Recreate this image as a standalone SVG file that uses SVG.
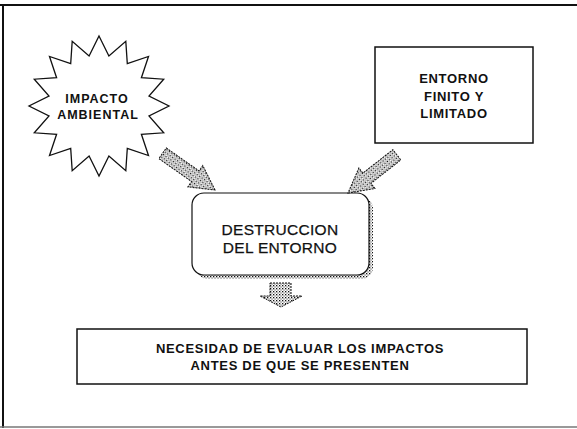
<svg xmlns="http://www.w3.org/2000/svg" width="577" height="429" viewBox="0 0 577 429">
  <defs>
    <pattern id="dots" width="3" height="3" patternUnits="userSpaceOnUse">
      <rect width="3" height="3" fill="#ffffff"/>
      <rect x="0" y="0" width="1.3" height="1.3" fill="#111"/>
      <rect x="1.5" y="1.5" width="1.1" height="1.1" fill="#444"/>
    </pattern>
  </defs>
  <style>
    .frame { stroke: #111; fill: none; }
    .box { fill: #ffffff; stroke: #111; stroke-width: 1.5; }
    .star { fill: #ffffff; stroke: #111; stroke-width: 1.3; stroke-linejoin: miter; }
    .arrow { fill: url(#dots); stroke: #111; stroke-width: 1; stroke-dasharray: 2 1; stroke-linejoin: miter; }
    .shadow { fill: url(#dots); stroke: none; }
    .lbl { font-family: "Liberation Sans", Arial, sans-serif; font-weight: bold; fill: #111; text-anchor: middle; }
    .s13 { font-size: 13px; letter-spacing: 0.7px; }
    .s12 { font-size: 12.5px; letter-spacing: 1px; }
    .big { font-size: 15.5px; font-weight: normal; letter-spacing: 0.3px; stroke: #111; stroke-width: 0.25px; }
  </style>
  <rect width="577" height="429" fill="#ffffff"/>

  <g id="frame">
    <line class="frame" x1="0" y1="5" x2="577" y2="5" stroke-width="2"/>
    <line class="frame" x1="3" y1="5" x2="3" y2="428" stroke-width="2"/>
    <line class="frame" x1="0" y1="427" x2="577" y2="427" stroke-width="1.5" style="stroke:#777"/>
  </g>

  <g id="impacto-ambiental">
    <polygon class="star" points="99,36 108.9,56 125.8,41.3 127.3,63.6 148.5,56.5 141.4,77.7 163.7,79.2 149,96.1 169,106 149,115.9 163.7,132.8 141.4,134.3 148.5,155.5 127.3,148.4 125.8,170.7 108.9,156 99,176 89.1,156 72.2,170.7 70.7,148.4 49.5,155.5 56.6,134.3 34.3,132.8 49,115.9 29,106 49,96.1 34.3,79.2 56.6,77.7 49.5,56.5 70.7,63.6 72.2,41.3 89.1,56"/>
    <text class="lbl s12" x="97" y="102.5">IMPACTO</text>
    <text class="lbl s12" x="98" y="119">AMBIENTAL</text>
  </g>

  <g id="entorno-finito">
    <rect class="box" x="375" y="47" width="158" height="96"/>
    <text class="lbl s13" x="454" y="83">ENTORNO</text>
    <text class="lbl s13" x="454" y="101">FINITO Y</text>
    <text class="lbl s13" x="454" y="118">LIMITADO</text>
  </g>

  <g id="destruccion">
    <rect class="shadow" x="196" y="197" width="177" height="82" rx="12"/>
    <rect class="box" x="192" y="193" width="177" height="82" rx="12" style="stroke-width:1.2"/>
    <text class="lbl big" x="280" y="234.5">DESTRUCCION</text>
    <text class="lbl big" x="280" y="252.5">DEL ENTORNO</text>
  </g>

  <g id="necesidad">
    <rect class="box" x="77" y="329" width="450" height="55"/>
    <text class="lbl s13" x="300" y="352.7">NECESIDAD DE EVALUAR LOS IMPACTOS</text>
    <text class="lbl s13" x="300" y="369.7">ANTES DE QUE SE PRESENTEN</text>
  </g>

  <g id="connectors">
    <polygon class="arrow" transform="translate(215,190) rotate(35)" points="0,0 -24,-13 -24,-6.5 -64,-6.5 -64,6.5 -24,6.5 -24,13"/>
    <polygon class="arrow" transform="translate(348,193) rotate(142)" points="0,0 -24,-13 -24,-6.5 -62,-6.5 -62,6.5 -24,6.5 -24,13"/>
    <polygon class="arrow" points="270,283 291,283 291,296 302,296 281,307 260,296 270,296"/>
  </g>
</svg>
